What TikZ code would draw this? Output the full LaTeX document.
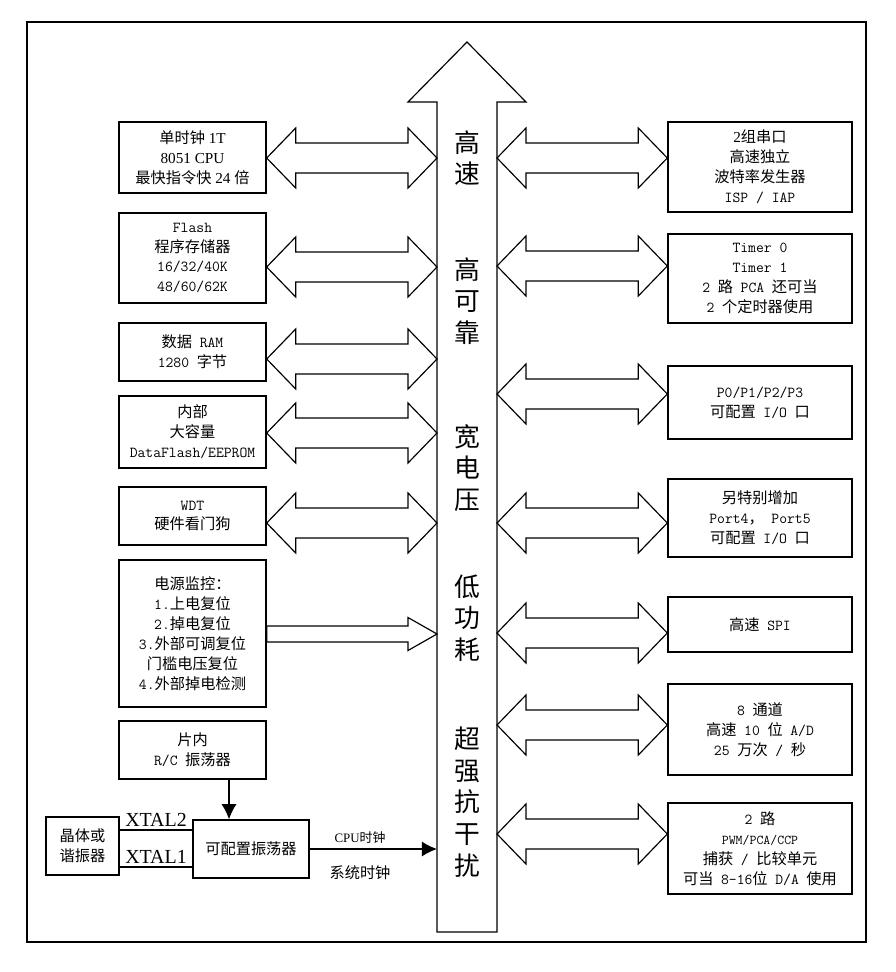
\documentclass[tikz,border=0pt]{standalone}
\usepackage{fontspec}
\setmainfont{Liberation Serif}
\newfontfamily\cnfont{Noto Sans CJK SC}
\usetikzlibrary{calc, arrows.meta}

\newcommand\cn[1]{{\cnfont #1}}
\newcommand\mo[1]{{\ttfamily #1}}
\newcommand\gap{\hspace{0.5em}}
\def\pxu{0.03cm}

% block arrow with two heads, between x of #1 and x of #2, at height #3
\newcommand\dblarrow[3]{%
	\path (0,#3) coordinate (ay);
	\draw[busarrow] (#1 |- ay) -- ++(29,-30) -- ++(0,15)
		-- ($(#2 |- ay)+(-29,-15)$) -- ++(0,-15) -- (#2 |- ay)
		-- ++(-29,30) -- ++(0,-15) -- ($(#1 |- ay)+(29,15)$)
		-- ++(0,15) -- cycle;
}

\begin{document}
\begin{tikzpicture}[x=0.03cm, y=-0.03cm,
	box/.style={draw, rectangle, line width=1.2pt, align=center, inner sep=0pt,
		font=\fontsize{13pt}{17pt}\selectfont},
	lbox/.style={box, minimum width=147*\pxu},
	rbox/.style={box, minimum width=184*\pxu},
	busarrow/.style={draw, line width=1pt, fill=white, line join=miter},
	bustext/.style={align=center, font=\cnfont\fontsize{22pt}{27pt}\selectfont},
	xtal/.style={font=\fontsize{17pt}{20pt}\selectfont, inner sep=2pt}]
	\useasboundingbox (0,0) rectangle (896,972);
	\draw[line width=1.6pt] (27,22) rectangle (866,942);

	% the bus
	\draw[busarrow] (467,42) -- (526,102) -- (497,102) -- (497,932)
		-- (437,932) -- (437,102) -- (408,102) -- cycle;
	\coordinate (busL) at (437,0);
	\coordinate (busR) at (497,0);

	\node[bustext] (t1) at (467,158) {高\\速};
	\node[bustext] (t2) at (467,301) {高\\可\\靠};
	\node[bustext] (t3) at (467,468) {宽\\电\\压};
	\node[bustext] (t4) at (467,618) {低\\功\\耗};
	\node[bustext] (t5) at (467,802) {超\\强\\抗\\干\\扰};

	% left side
	\node[lbox, minimum height=71*\pxu] (l1) at (192.5,157.5)
		{\cn{单时钟} 1T\\8051 CPU\\\cn{最快指令快} 24 \cn{倍}};
	\node[lbox, minimum height=90*\pxu] (l2) at (192.5,258)
		{\mo{Flash}\\\cn{程序存储器}\\\mo{16/32/40K}\\\mo{48/60/62K}};
	\node[lbox, minimum height=58*\pxu] (l3) at (192.5,352)
		{\cn{数据}\gap\mo{RAM}\\\mo{1280}\gap\cn{字节}};
	\node[lbox, minimum height=72*\pxu] (l4) at (192.5,432)
		{\cn{内部}\\\cn{大容量}\\\mo{DataFlash/EEPROM}};
	\node[lbox, minimum height=58*\pxu] (l5) at (192.5,516)
		{\mo{WDT}\\\cn{硬件看门狗}};
	\node[lbox, minimum height=147*\pxu] (l6) at (192.5,633.5)
		{\cn{电源监控：}\\\mo{1.}\cn{上电复位}\\\mo{2.}\cn{掉电复位}\\
		\mo{3.}\cn{外部可调复位}\\\cn{门槛电压复位}\\\mo{4.}\cn{外部掉电检测}};
	\node[lbox, minimum height=58*\pxu] (l7) at (192.5,750)
		{\cn{片内}\\\mo{R/C}\gap\cn{振荡器}};

	\dblarrow{l1.east}{busL}{158}
	\dblarrow{l2.east}{busL}{267}
	\dblarrow{l3.east}{busL}{359}
	\dblarrow{l4.east}{busL}{433}
	\dblarrow{l5.east}{busL}{523}

	\path (0,634) coordinate (py);
	\draw[busarrow] ($(l6.east |- py)+(0,-8)$) -- ($(busL |- py)+(-29,-8)$)
		-- ++(0,-8.5) -- (busL |- py) -- ++(-29,16.5) -- ++(0,-8.5)
		-- ($(l6.east |- py)+(0,8)$) -- cycle;

	% clock
	\node[box, minimum width=73*\pxu, minimum height=58*\pxu] (xtal) at (82.5,846)
		{\cn{晶体或}\\\cn{谐振器}};
	\node[box, minimum width=116*\pxu, minimum height=58*\pxu] (osc) at (251,849)
		{\cn{可配置振荡器}};
	\path (0,830) coordinate (xa) (0,867) coordinate (xb) (229,0) coordinate (rc);
	\draw[line width=1.2pt] (xtal.east |- xa) -- (osc.west |- xa)
		node[xtal, midway, above] (x2) {XTAL2};
	\draw[line width=1.2pt] (xtal.east |- xb) -- (osc.west |- xb)
		node[xtal, midway, above] (x1) {XTAL1};
	\draw[line width=1.2pt, -{Latex[length=13pt, width=13pt]}] (rc |- l7.south) -- (rc |- osc.north);
	\draw[line width=1.2pt, -{Latex[length=13pt, width=13pt]}] (osc.east) -- (osc.east -| busL);
	\node[font=\fontsize{11pt}{13pt}\selectfont] (cpu) at (360,838) {CPU\cn{时钟}};
	\node[font=\cnfont\fontsize{13pt}{15pt}\selectfont] (sys) at (360,873) {系统时钟};

	% right side
	\node[rbox, minimum height=90*\pxu] (r1) at (760,167)
		{2\cn{组串口}\\\cn{高速独立}\\\cn{波特率发生器}\\\mo{ISP / IAP}};
	\node[rbox, minimum height=89*\pxu] (r2) at (760,278.5)
		{\mo{Timer 0}\\\mo{Timer 1}\\\mo{2}\gap\cn{路}\gap\mo{PCA}\gap\cn{还可当}\\
		\mo{2}\gap\cn{个定时器使用}};
	\node[rbox, minimum height=73*\pxu] (r3) at (760,402.5)
		{\mo{P0/P1/P2/P3}\\\cn{可配置}\gap\mo{I/O}\gap\cn{口}};
	\node[rbox, minimum height=78*\pxu] (r4) at (760,518)
		{\cn{另特别增加}\\\mo{Port4}\cn{，}\gap\mo{Port5}\\\cn{可配置}\gap\mo{I/O}\gap\cn{口}};
	\node[rbox, minimum height=55*\pxu] (r5) at (760,624.5)
		{\cn{高速}\gap\mo{SPI}};
	\node[rbox, minimum height=91*\pxu] (r6) at (760,729.5)
		{\mo{8}\gap\cn{通道}\\\cn{高速}\gap\mo{10}\gap\cn{位}\gap\mo{A/D}\\
		\mo{25}\gap\cn{万次}\gap\mo{/}\gap\cn{秒}};
	\node[rbox, minimum height=91*\pxu] (r7) at (760,848.5)
		{\mo{2}\gap\cn{路}\\{\fontsize{11.5pt}{17pt}\selectfont\ttfamily PWM/PCA/CCP}\\
		\cn{捕获}\gap\mo{/}\gap\cn{比较单元}\\\cn{可当}\gap\mo{8-16}\cn{位}\gap\mo{D/A}\gap\cn{使用}};

	\dblarrow{busR}{r1.west}{158}
	\dblarrow{busR}{r2.west}{266}
	\dblarrow{busR}{r3.west}{394}
	\dblarrow{busR}{r4.west}{523}
	\dblarrow{busR}{r5.west}{633}
	\dblarrow{busR}{r6.west}{725}
	\dblarrow{busR}{r7.west}{834}
\end{tikzpicture}
\end{document}
